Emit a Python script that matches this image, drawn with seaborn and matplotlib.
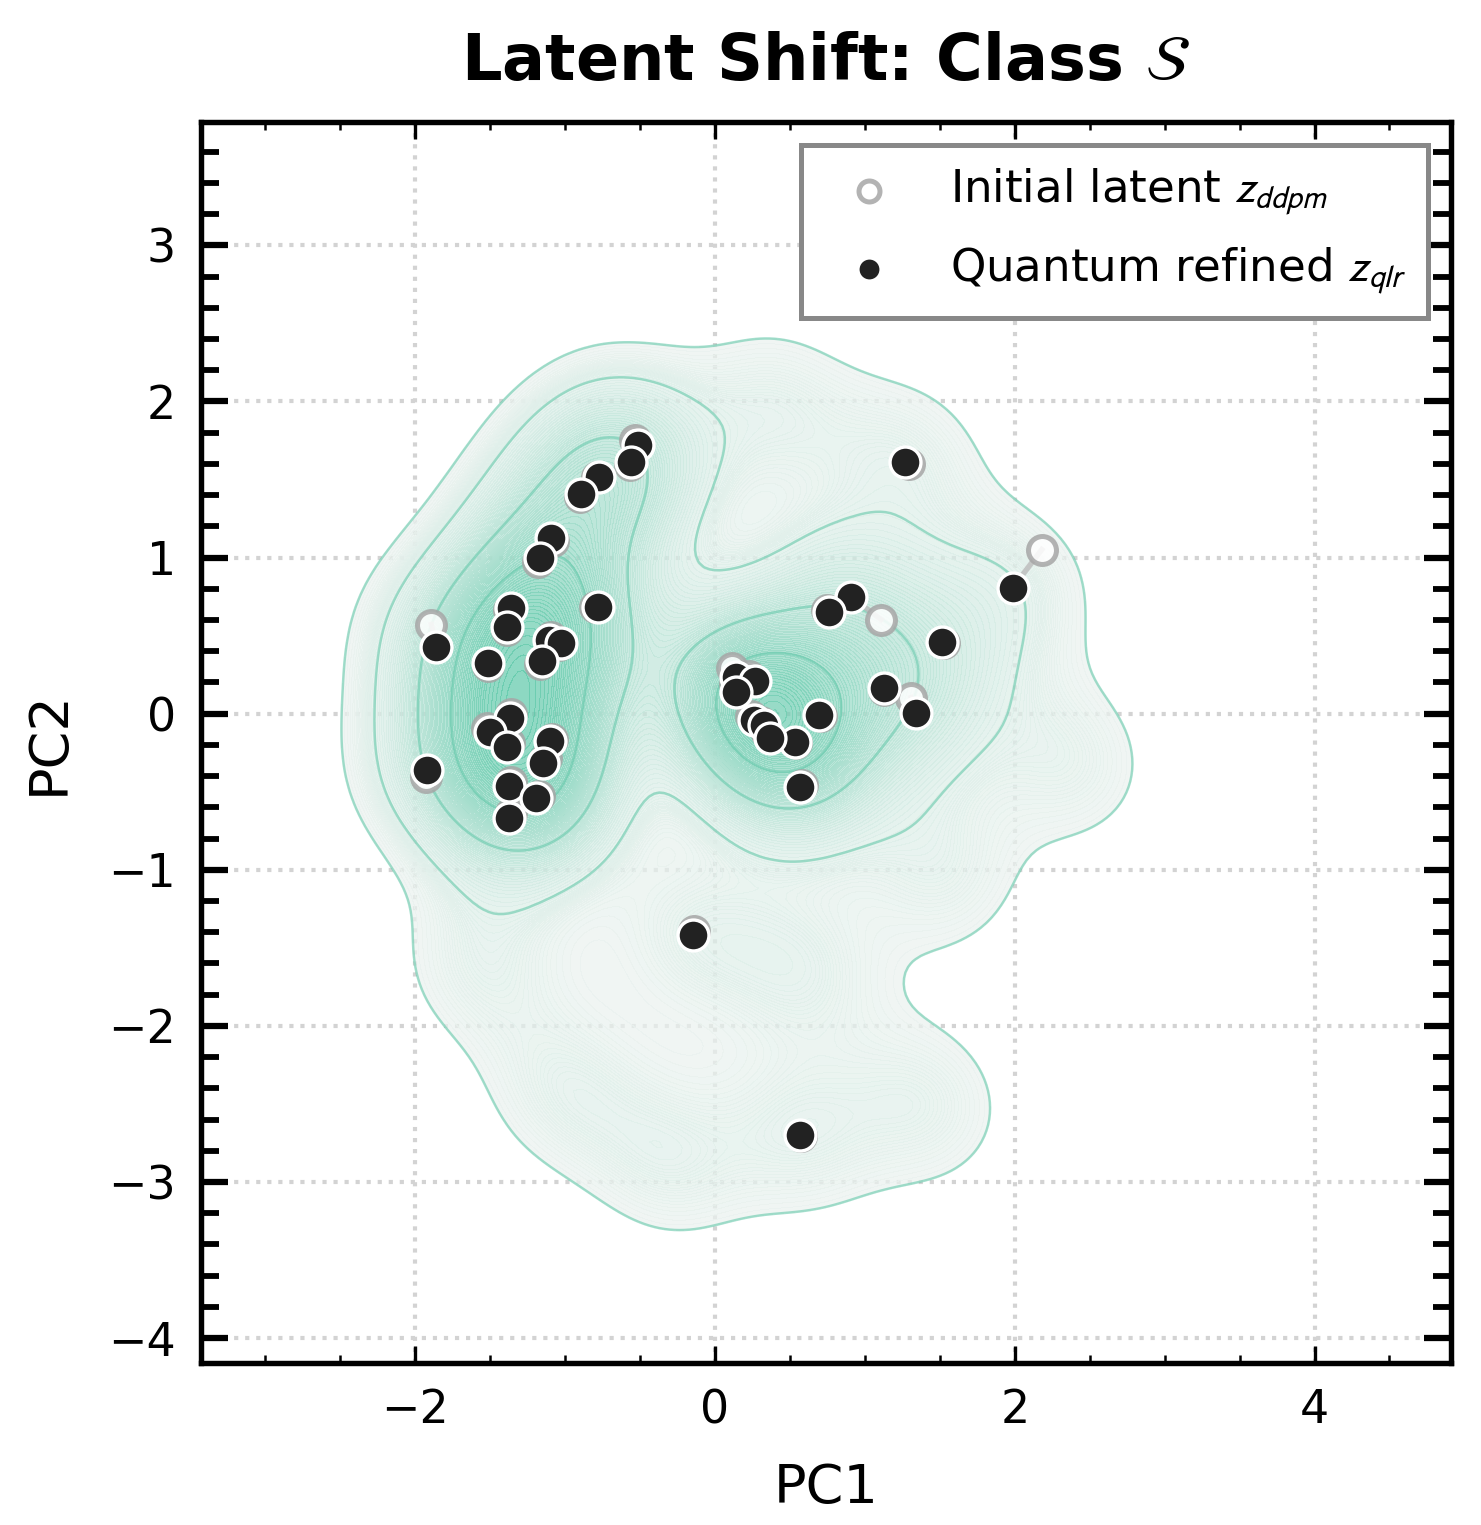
import numpy as np
import matplotlib
matplotlib.use("Agg")
import matplotlib.pyplot as plt
from matplotlib.ticker import AutoMinorLocator, MultipleLocator
import seaborn as sns

# refined latents (black) and initial latents (grey)
refined_x = [-0.513, -0.560, -0.773, -0.893, -1.093, -1.167, -0.780, -1.360, -1.387, -1.860,
             -1.107, -1.027, -1.153, -1.513, -1.367, -1.500, -1.387, -1.100, -1.147, -1.373,
             -1.193, -1.373, -1.920, -0.147, 0.567, 1.267, 1.987, 0.907, 0.760, 1.513,
             1.127, 1.340, 0.693, 0.533, 0.567, 0.140, 0.267, 0.140, 0.260, 0.327, 0.367]
refined_y = [1.724, 1.615, 1.519, 1.410, 1.128, 0.994, 0.686, 0.679, 0.558, 0.429,
             0.474, 0.455, 0.340, 0.327, -0.026, -0.115, -0.212, -0.173, -0.314, -0.462,
             -0.538, -0.667, -0.359, -1.417, -2.699, 1.615, 0.808, 0.750, 0.654, 0.462,
             0.167, 0.006, -0.006, -0.179, -0.468, 0.237, 0.212, 0.141, -0.038, -0.071, -0.154]
initial_x = [-0.533, -0.567, -0.787, -0.900, -1.080, -1.180, -0.800, -1.373, -1.387, -1.893,
             -1.093, -1.040, -1.167, -1.513, -1.360, -1.520, -1.373, -1.087, -1.127, -1.360,
             -1.173, -1.360, -1.927, -0.140, 0.573, 1.293, 2.180, 1.107, 0.747, 1.527,
             1.127, 1.307, 0.707, 0.540, 0.580, 0.113, 0.227, 0.133, 0.240, 0.307, 0.347]
initial_y = [1.750, 1.590, 1.513, 1.385, 1.109, 0.974, 0.686, 0.667, 0.538, 0.571,
             0.494, 0.442, 0.321, 0.308, 0.000, -0.090, -0.186, -0.160, -0.282, -0.436,
             -0.526, -0.635, -0.404, -1.391, -2.705, 1.596, 1.051, 0.603, 0.667, 0.455,
             0.154, 0.103, -0.013, -0.186, -0.455, 0.295, 0.244, 0.192, -0.013, -0.051, -0.122]

# further class samples that only show up in the density (faint lobes, estimated)
extra_x = [-1.55, -1.00, -0.30, 1.40, 2.35, 1.50, 0.60, 0.40]
extra_y = [-1.60, -2.40, -2.85, -2.50, -0.30, -1.00, -1.65, 1.95]
density_x = refined_x + extra_x
density_y = refined_y + extra_y

plt.rcParams["font.family"] = ["DejaVu Sans"]
plt.rcParams["mathtext.fontset"] = "stixsans"

fig = plt.figure(figsize=(1481 / 300, 1525 / 300), dpi=300)
ax = fig.add_axes([0.1357, 0.1062, 0.8440, 0.8138])

teal = "#5cc8a8"
bw = 0.68
sns.kdeplot(x=density_x, y=density_y, fill=True, levels=100, thresh=0.05, bw_adjust=bw,
            cmap=sns.light_palette(teal, as_cmap=True), alpha=0.7, ax=ax, zorder=1)
sns.kdeplot(x=density_x, y=density_y, levels=5, thresh=0.05, bw_adjust=bw, color="#66c9ab",
            linewidths=0.6, alpha=0.6, ax=ax, zorder=1)

# shift of each latent (plain segments)
for xi, yi, xr, yr in zip(initial_x, initial_y, refined_x, refined_y):
    ax.plot([xi, xr], [yi, yr], color="#bbbbbb", lw=1.3, alpha=0.8, zorder=2)

sns.scatterplot(x=initial_x, y=initial_y, color="white", edgecolor="#a6a6a6",
                linewidth=1.2, s=45, alpha=0.85, ax=ax, zorder=3,
                label=r"Initial latent $z_{ddpm}$")
sns.scatterplot(x=refined_x, y=refined_y, color="#222222", edgecolor="white",
                linewidth=0.8, s=55, ax=ax, zorder=4,
                label=r"Quantum refined $z_{qlr}$")

ax.set_xlim(-3.43, 4.91)
ax.set_ylim(-4.16, 3.79)
ax.xaxis.set_major_locator(MultipleLocator(2))
ax.yaxis.set_major_locator(MultipleLocator(1))
ax.xaxis.set_minor_locator(AutoMinorLocator(4))
ax.yaxis.set_minor_locator(AutoMinorLocator(5))

ax.tick_params(which="both", direction="in", top=True, right=True, labelsize=11, pad=6)
ax.tick_params(axis="x", which="major", length=4, width=0.8)
ax.tick_params(axis="x", which="minor", length=2, width=0.6)
ax.tick_params(axis="y", which="major", length=6.5, width=1.5)
ax.tick_params(axis="y", which="minor", length=4.3, width=1.4)
for sp in ax.spines.values():
    sp.set_linewidth(1.3)

ax.grid(True, which="major", ls=":", color="#d3d3d3", lw=1.0, zorder=0)
ax.set_axisbelow(True)

ax.set_xlabel("PC1", fontsize=13, labelpad=7)
ax.set_ylabel("PC2", fontsize=13, labelpad=8)
ax.set_title(r"Latent Shift: Class $\mathcal{S}$", fontsize=15.3, fontweight="bold", pad=10)

leg = ax.legend(loc="upper right", fontsize=10.8, markerscale=0.75, fancybox=False,
                framealpha=1, edgecolor="#888888", labelspacing=0.62, borderpad=0.5)
leg.get_frame().set_linewidth(1.2)

fig.savefig("out.png", dpi=300)
